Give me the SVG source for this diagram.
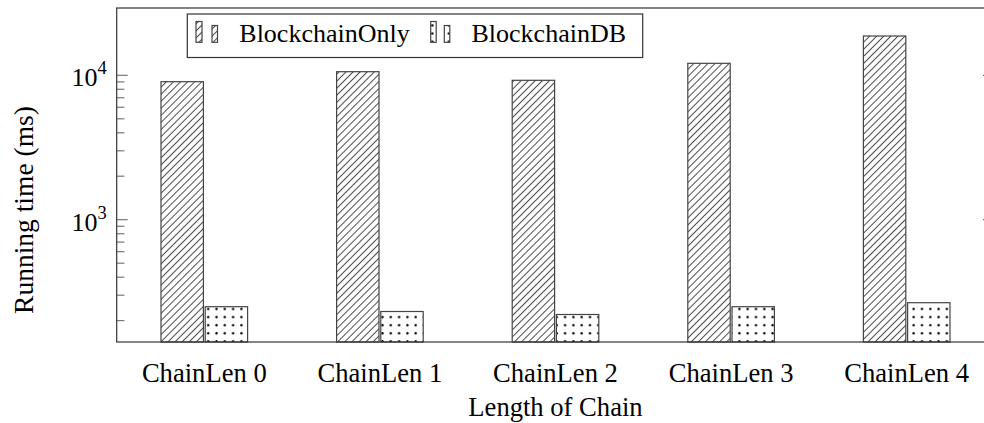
<svg xmlns="http://www.w3.org/2000/svg" width="984" height="423" viewBox="0 0 984 423">
  <defs>
    <!-- north-east hatching for the BlockchainOnly series -->
    <pattern id="hatch" patternUnits="userSpaceOnUse" width="5" height="5" patternTransform="rotate(45)">
      <rect width="5" height="5" fill="#fff"/>
      <line x1="0" y1="0" x2="0" y2="5" stroke="#000" stroke-width="1.4"/>
    </pattern>
    <!-- dotted fill for the BlockchainDB series -->
    <pattern id="dots" patternUnits="userSpaceOnUse" x="204" y="305" width="8.3" height="8.1">
      <rect width="8.3" height="8.1" fill="#fff"/>
      <circle cx="4.2" cy="4" r="1.2" fill="#000"/>
    </pattern>
  </defs>
  <style>
    .lbl { font-family: "Liberation Serif", "Times New Roman", serif; fill: #000; }
    .tick { font-size: 26px; }
    .axis { fill: none; stroke: #333; stroke-width: 1.2; }
    .mt { stroke: #777; stroke-width: 1.2; }
    .bar { stroke: #444; stroke-width: 1.2; }
    .only { fill: url(#hatch); }
    .db { fill: url(#dots); }
  </style>

  <rect width="984" height="423" fill="#fff"/>

  <!-- y-axis ticks (log scale, 10^3 at y=219.7, 10^4 at y=75.3) -->
  <g id="yticks">
    <line class="mt" x1="116.7" y1="75.3" x2="127.7" y2="75.3"/>
    <line class="mt" x1="116.7" y1="219.7" x2="127.7" y2="219.7"/>
    <line class="mt" x1="116.7" y1="81.9" x2="124.4" y2="81.9"/>
    <line class="mt" x1="116.7" y1="89.3" x2="124.4" y2="89.3"/>
    <line class="mt" x1="116.7" y1="97.7" x2="124.4" y2="97.7"/>
    <line class="mt" x1="116.7" y1="107.3" x2="124.4" y2="107.3"/>
    <line class="mt" x1="116.7" y1="118.8" x2="124.4" y2="118.8"/>
    <line class="mt" x1="116.7" y1="132.8" x2="124.4" y2="132.8"/>
    <line class="mt" x1="116.7" y1="150.8" x2="124.4" y2="150.8"/>
    <line class="mt" x1="116.7" y1="176.2" x2="124.4" y2="176.2"/>
    <line class="mt" x1="116.7" y1="226.3" x2="124.4" y2="226.3"/>
    <line class="mt" x1="116.7" y1="233.7" x2="124.4" y2="233.7"/>
    <line class="mt" x1="116.7" y1="242.1" x2="124.4" y2="242.1"/>
    <line class="mt" x1="116.7" y1="251.7" x2="124.4" y2="251.7"/>
    <line class="mt" x1="116.7" y1="263.2" x2="124.4" y2="263.2"/>
    <line class="mt" x1="116.7" y1="277.2" x2="124.4" y2="277.2"/>
    <line class="mt" x1="116.7" y1="295.2" x2="124.4" y2="295.2"/>
    <line class="mt" x1="116.7" y1="320.6" x2="124.4" y2="320.6"/>
    <!-- right-hand side -->
    <line class="mt" x1="983" y1="75.3" x2="994" y2="75.3"/>
    <line class="mt" x1="983" y1="219.7" x2="994" y2="219.7"/>
    <text class="lbl tick" x="71.5" y="86">10<tspan font-size="18.5" dy="-12">4</tspan></text>
    <text class="lbl tick" x="71.5" y="230.6">10<tspan font-size="18.5" dy="-12">3</tspan></text>
  </g>

  <!-- bars -->
  <g id="group0">
    <rect class="bar only" x="161" y="81.7" width="42.4" height="260.3"/>
    <rect class="bar db" x="205.2" y="306.7" width="42.4" height="35.3"/>
  </g>
  <g id="group1">
    <rect class="bar only" x="336.6" y="71.7" width="42.4" height="270.3"/>
    <rect class="bar db" x="380.8" y="311.5" width="42.4" height="30.5"/>
  </g>
  <g id="group2">
    <rect class="bar only" x="512.2" y="80.3" width="42.4" height="261.7"/>
    <rect class="bar db" x="556.4" y="314.5" width="42.4" height="27.5"/>
  </g>
  <g id="group3">
    <rect class="bar only" x="687.8" y="63.3" width="42.4" height="278.7"/>
    <rect class="bar db" x="732" y="306.7" width="42.4" height="35.3"/>
  </g>
  <g id="group4">
    <rect class="bar only" x="863.4" y="36" width="42.4" height="306"/>
    <rect class="bar db" x="907.6" y="302.7" width="42.4" height="39.3"/>
  </g>

  <!-- axis frame -->
  <g id="axes">
    <rect class="axis" x="116.7" y="8" width="877.3" height="334"/>
  </g>

  <!-- x tick labels -->
  <g id="xticks" class="lbl" font-size="26.6" text-anchor="middle">
    <text x="204.3" y="381.7">ChainLen 0</text>
    <text x="379.9" y="381.7">ChainLen 1</text>
    <text x="555.5" y="381.7">ChainLen 2</text>
    <text x="731.1" y="381.7">ChainLen 3</text>
    <text x="906.7" y="381.7">ChainLen 4</text>
  </g>

  <!-- axis titles -->
  <text id="xlabel" class="lbl" font-size="26.6" text-anchor="middle" x="555.5" y="415.5">Length of Chain</text>
  <text id="ylabel" class="lbl" font-size="27.5" text-anchor="middle" transform="translate(33 210) rotate(-90)">Running time (ms)</text>

  <!-- legend -->
  <g id="legend">
    <rect x="187.3" y="14" width="455.4" height="43.5" fill="#fff" stroke="#333" stroke-width="1.2"/>
    <rect class="bar only" x="196" y="21.5" width="6" height="20.8" stroke-width="1"/>
    <rect class="bar only" x="212" y="25.5" width="5.5" height="16.8" stroke-width="1"/>
    <text class="lbl" font-size="26" x="239.3" y="42.3">BlockchainOnly</text>
    <rect class="bar db" x="430.7" y="21.5" width="5.5" height="20.8" stroke-width="1"/>
    <rect class="bar db" x="444.3" y="25.5" width="5.5" height="16.8" stroke-width="1"/>
    <text class="lbl" font-size="26" x="471.5" y="42.3">BlockchainDB</text>
  </g>
</svg>
